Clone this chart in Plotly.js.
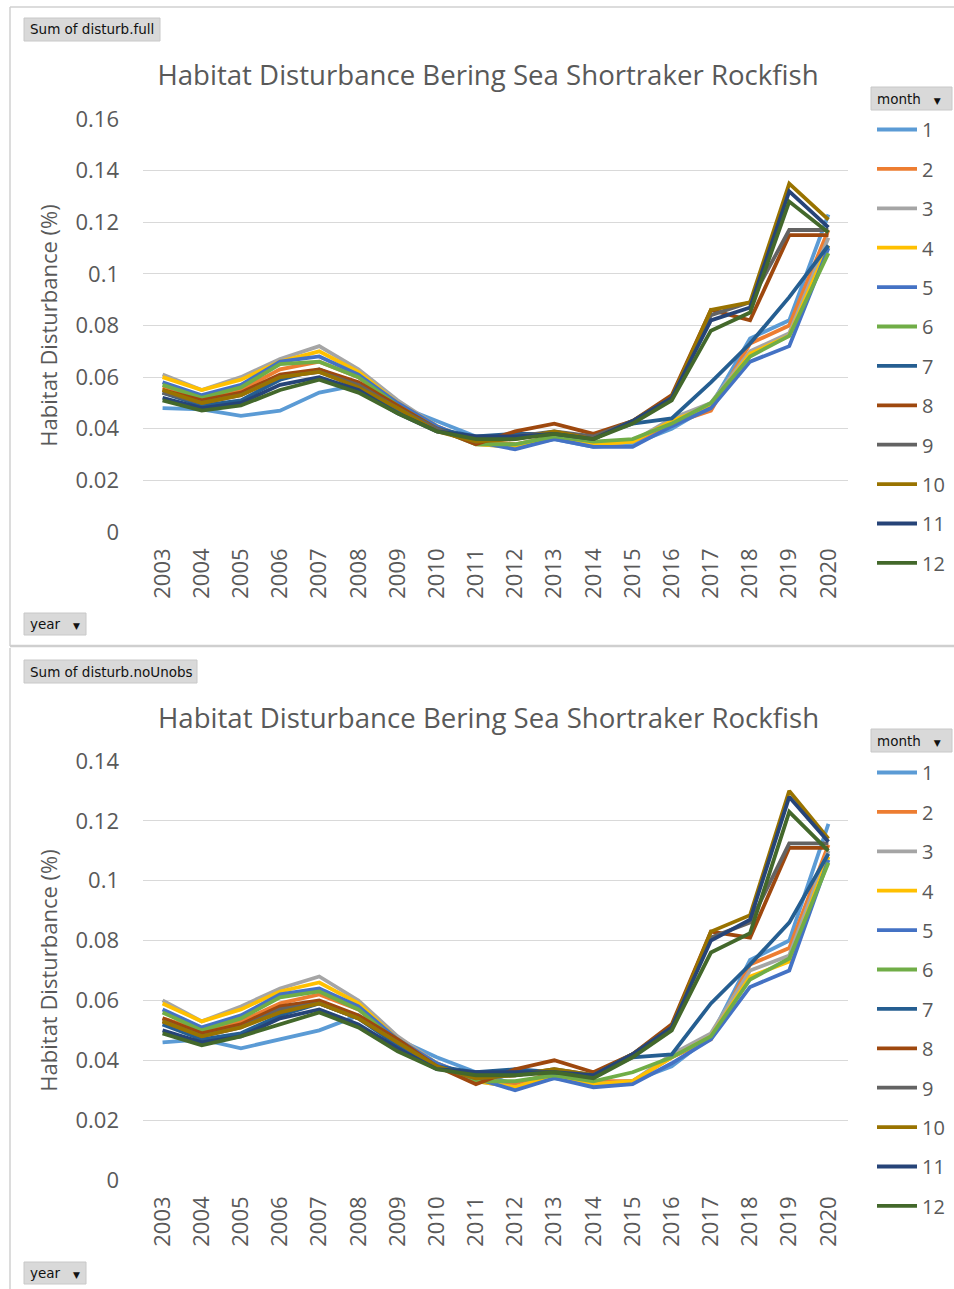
<!DOCTYPE html>
<html>
<head>
<meta charset="utf-8">
<script src="https://cdn.plot.ly/plotly-3.0.1.min.js"></script>
<style>
html,body{margin:0;padding:0;background:#fff;}
#chart{width:954px;height:1289px;}
</style>
</head>
<body>
<div id="chart"></div>
<script>
// ---------- DATA ----------
const years = ["2003","2004","2005","2006","2007","2008","2009","2010","2011","2012","2013","2014","2015","2016","2017","2018","2019","2020"];
const months = ["1","2","3","4","5","6","7","8","9","10","11","12"];
const chartTitle = "Habitat Disturbance Bering Sea Shortraker Rockfish";
const yTitle = "Habitat Disturbance (%)";

// Sum of disturb.full (top chart)
const full_m1  = [0.048,0.0475,0.045,0.047,0.054,0.057,0.049,0.043,0.037,0.033,0.036,0.033,0.034,0.040,0.049,0.075,0.082,0.123];
const full_m2  = [0.056,0.051,0.055,0.063,0.066,0.060,0.049,0.041,0.035,0.034,0.037,0.034,0.035,0.042,0.047,0.073,0.080,0.117];
const full_m3  = [0.061,0.055,0.060,0.067,0.072,0.063,0.051,0.041,0.034,0.033,0.037,0.034,0.035,0.044,0.050,0.070,0.077,0.114];
const full_m4  = [0.060,0.055,0.059,0.066,0.070,0.062,0.050,0.041,0.034,0.033,0.037,0.034,0.035,0.043,0.049,0.069,0.076,0.111];
const full_m5  = [0.058,0.053,0.057,0.066,0.068,0.061,0.050,0.041,0.035,0.032,0.036,0.033,0.033,0.041,0.048,0.066,0.072,0.110];
const full_m6  = [0.057,0.052,0.056,0.065,0.066,0.060,0.049,0.040,0.034,0.034,0.037,0.035,0.036,0.042,0.050,0.068,0.076,0.108];
const full_m7  = [0.054,0.049,0.051,0.059,0.063,0.057,0.047,0.040,0.037,0.038,0.038,0.037,0.042,0.044,0.058,0.073,0.091,0.111];
const full_m8  = [0.055,0.051,0.054,0.061,0.063,0.058,0.049,0.040,0.034,0.039,0.042,0.038,0.043,0.053,0.086,0.082,0.115,0.115];
const full_m9  = [0.054,0.050,0.053,0.060,0.062,0.057,0.048,0.040,0.035,0.037,0.039,0.037,0.043,0.052,0.084,0.089,0.117,0.117];
const full_m10 = [0.055,0.050,0.053,0.060,0.062,0.056,0.048,0.039,0.035,0.036,0.039,0.036,0.043,0.052,0.086,0.089,0.135,0.121];
const full_m11 = [0.052,0.048,0.050,0.057,0.060,0.055,0.046,0.039,0.037,0.037,0.038,0.036,0.043,0.052,0.082,0.087,0.132,0.118];
const full_m12 = [0.051,0.047,0.049,0.055,0.059,0.054,0.046,0.039,0.036,0.036,0.038,0.036,0.042,0.051,0.078,0.085,0.128,0.116];

// Sum of disturb.noUnobs (bottom chart)
const noun_m1  = [0.046,0.047,0.044,0.047,0.050,0.055,0.047,0.041,0.036,0.032,0.034,0.032,0.033,0.038,0.048,0.0735,0.080,0.119];
const noun_m2  = [0.054,0.050,0.053,0.059,0.062,0.057,0.047,0.039,0.034,0.032,0.036,0.033,0.033,0.041,0.047,0.072,0.0775,0.112];
const noun_m3  = [0.060,0.053,0.058,0.064,0.068,0.060,0.048,0.039,0.033,0.031,0.035,0.032,0.033,0.042,0.049,0.070,0.075,0.110];
const noun_m4  = [0.059,0.053,0.057,0.063,0.066,0.059,0.047,0.039,0.033,0.031,0.035,0.032,0.033,0.041,0.048,0.068,0.073,0.108];
const noun_m5  = [0.057,0.051,0.055,0.062,0.064,0.058,0.047,0.039,0.034,0.030,0.034,0.031,0.032,0.039,0.047,0.0645,0.070,0.107];
const noun_m6  = [0.056,0.050,0.054,0.061,0.063,0.057,0.046,0.038,0.033,0.033,0.035,0.033,0.036,0.041,0.048,0.067,0.074,0.106];
const noun_m7  = [0.052,0.047,0.049,0.055,0.059,0.054,0.045,0.038,0.036,0.037,0.036,0.035,0.041,0.042,0.059,0.072,0.086,0.109];
const noun_m8  = [0.054,0.049,0.052,0.058,0.060,0.055,0.047,0.038,0.032,0.037,0.040,0.036,0.042,0.052,0.083,0.081,0.111,0.111];
const noun_m9  = [0.053,0.048,0.051,0.057,0.059,0.054,0.046,0.038,0.034,0.035,0.037,0.035,0.042,0.051,0.081,0.086,0.1125,0.1125];
const noun_m10 = [0.053,0.048,0.051,0.056,0.059,0.054,0.046,0.038,0.034,0.035,0.037,0.035,0.042,0.051,0.083,0.0885,0.130,0.114];
const noun_m11 = [0.050,0.046,0.048,0.054,0.057,0.052,0.044,0.037,0.036,0.036,0.036,0.035,0.042,0.051,0.080,0.087,0.128,0.113];
const noun_m12 = [0.049,0.045,0.048,0.052,0.056,0.051,0.043,0.037,0.035,0.035,0.036,0.034,0.041,0.050,0.076,0.0825,0.123,0.110];

const fullSeries = [full_m1,full_m2,full_m3,full_m4,full_m5,full_m6,full_m7,full_m8,full_m9,full_m10,full_m11,full_m12];
const nounSeries = [noun_m1,noun_m2,noun_m3,noun_m4,noun_m5,noun_m6,noun_m7,noun_m8,noun_m9,noun_m10,noun_m11,noun_m12];
const colors = ["#5B9BD5","#ED7D31","#A5A5A5","#FFC000","#4472C4","#70AD47","#255E91","#9E480E","#636363","#997300","#264478","#43682B"];

// ---------- LAYOUT HELPERS ----------
const W = 954, H = 1289;
const px = x => x / W;
const py = y => 1 - y / H;
const FONT = "Open Sans, Noto Sans, sans-serif";
const GREY = "#595959";

const traces = [];
fullSeries.forEach((s, i) => traces.push({
  type: "scatter", mode: "lines", x: years, y: s, name: months[i],
  xaxis: "x", yaxis: "y", legend: "legend", legendgroup: "a" + i,
  line: {color: colors[i], width: 3.8}, hoverinfo: "x+y+name"
}));
nounSeries.forEach((s, i) => traces.push({
  type: "scatter", mode: "lines", x: years, y: s, name: months[i],
  xaxis: "x2", yaxis: "y2", legend: "legend2", legendgroup: "b" + i,
  line: {color: colors[i], width: 3.8}, hoverinfo: "x+y+name"
}));

const xCommon = {
  type: "category", range: [-0.5, 17.5], showgrid: false, zeroline: false,
  showline: false, ticks: "", tickangle: -90, ticklabelstandoff: 11,
  tickfont: {family: FONT, size: 22, color: GREY}, fixedrange: true
};
const yCommon = {
  showgrid: true, gridcolor: "#D9D9D9", gridwidth: 1, zeroline: false,
  showline: false, ticks: "", ticklabelstandoff: 23, dtick: 0.02,
  tickfont: {family: FONT, size: 22, color: GREY}, fixedrange: true
};

function button(text, x0, y0, x1, y1, arrow) {
  return {
    shape: {type: "rect", xref: "paper", yref: "paper", x0: px(x0), x1: px(x1), y0: py(y0), y1: py(y1),
            fillcolor: "#D9D9D9", line: {color: "#C8C8C8", width: 1}, layer: "above"},
    ann: {xref: "paper", yref: "paper", x: px(x0 + 4), y: py((y0 + y1) / 2), xanchor: "left", yanchor: "middle",
          text: text + (arrow ? "&nbsp;&nbsp;&nbsp;<span style='font-size:9px'>▼</span>" : ""), showarrow: false,
          font: {family: "DejaVu Sans, sans-serif", size: 13.5, color: "#111"}}
  };
}
const btns = [
  button("Sum of disturb.full", 24, 18, 160, 41, false),
  button("year", 24, 613, 86, 635, true),
  button("month", 871, 87, 952, 110, true),
  button("Sum of disturb.noUnobs", 24, 660, 197, 683, false),
  button("year", 24, 1262, 86, 1284, true),
  button("month", 871, 729, 952, 752, true)
];

const frameShapes = [
  {type: "line", xref: "paper", yref: "paper", x0: px(10), x1: px(954), y0: py(7), y1: py(7), line: {color: "#D0D0D0", width: 1.5}},
  {type: "line", xref: "paper", yref: "paper", x0: px(10), x1: px(10), y0: py(7), y1: py(646), line: {color: "#D0D0D0", width: 1.5}},
  {type: "line", xref: "paper", yref: "paper", x0: px(10), x1: px(954), y0: py(646), y1: py(646), line: {color: "#CFCFCF", width: 2.5}},
  {type: "line", xref: "paper", yref: "paper", x0: px(10), x1: px(10), y0: py(648), y1: py(1289), line: {color: "#D0D0D0", width: 1.5}}
];

const legendCommon = {
  font: {family: FONT, size: 20, color: GREY}, bgcolor: "rgba(0,0,0,0)", borderwidth: 0,
  itemwidth: 40, tracegroupgap: 10.4, xanchor: "left", yanchor: "top", itemclick: false, itemdoubleclick: false
};

const layout = {
  width: W, height: H, margin: {l: 0, r: 0, t: 0, b: 0},
  paper_bgcolor: "#fff", plot_bgcolor: "#fff", showlegend: true,
  title: {text: chartTitle, x: px(488), xanchor: "center", y: py(75), yanchor: "middle",
          font: {family: FONT, size: 27.6, color: GREY}},
  xaxis: Object.assign({}, xCommon, {domain: [px(143), px(848)], anchor: "y"}),
  yaxis: Object.assign({}, yCommon, {domain: [py(532), py(119)], anchor: "x", range: [0, 0.16],
          title: {text: yTitle, font: {family: FONT, size: 22, color: GREY}, standoff: 11}}),
  xaxis2: Object.assign({}, xCommon, {domain: [px(143), px(848)], anchor: "y2"}),
  yaxis2: Object.assign({}, yCommon, {domain: [py(1180), py(761)], anchor: "x2", range: [0, 0.14],
          title: {text: yTitle, font: {family: FONT, size: 22, color: GREY}, standoff: 11}}),
  legend: Object.assign({}, legendCommon, {x: px(872), y: py(110)}),
  legend2: Object.assign({}, legendCommon, {x: px(872), y: py(753)}),
  shapes: frameShapes.concat(btns.map(b => b.shape)),
  annotations: btns.map(b => b.ann).concat([
    {xref: "paper", yref: "paper", x: px(488), y: py(717), xanchor: "center", yanchor: "middle",
     text: chartTitle, showarrow: false, font: {family: FONT, size: 27.6, color: GREY}}
  ])
};

Plotly.newPlot("chart", traces, layout, {displayModeBar: false, staticPlot: true});
</script>
</body>
</html>
